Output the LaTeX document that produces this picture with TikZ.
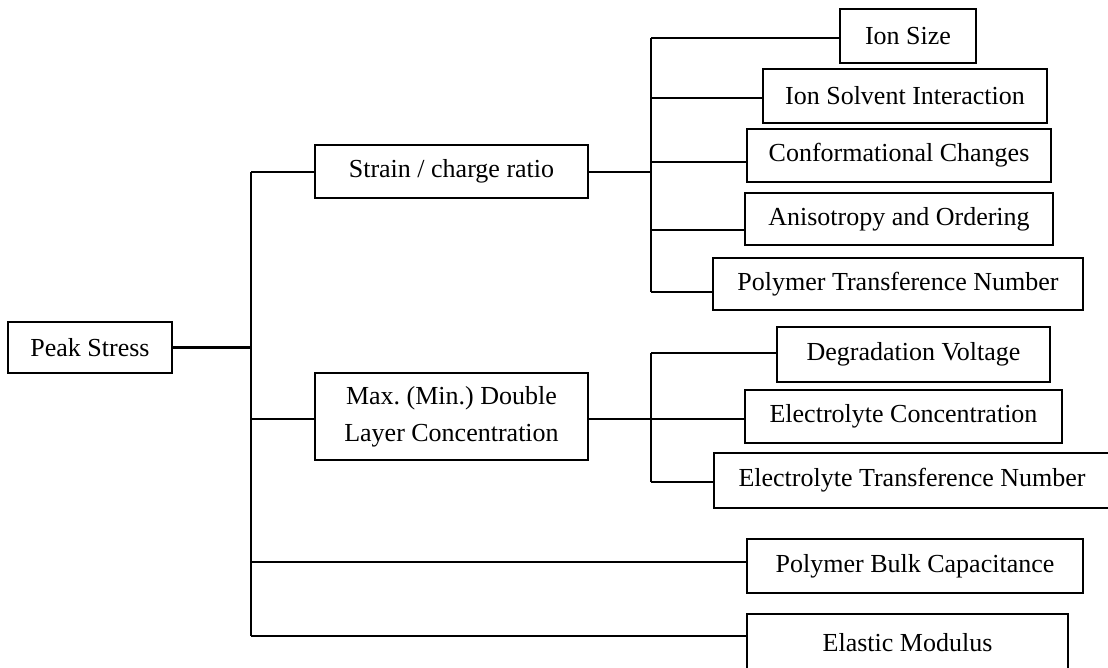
\documentclass[tikz,border=0pt]{standalone}
\usepackage{fontspec}
\setmainfont{Liberation Serif}
\usetikzlibrary{calc}
\frenchspacing
\tikzset{
  box/.style={draw=black, line width=2.9pt, inner sep=0pt, align=center,
    font=\fontsize{26}{37}\selectfont},
  link/.style={draw=black, line width=2.9pt},
}
\begin{document}
\begin{tikzpicture}[x=1pt,y=-1pt]
\useasboundingbox (0,0) rectangle (1108,667);
% nodes
\node[box, minimum width=164pt, minimum height=51pt] (peak) at (90,347.5) {Peak Stress};
\node[box, minimum width=273pt, minimum height=53pt] (strain) at (451.5,171.5) {Strain / charge ratio};
\node[box, minimum width=273pt, minimum height=87pt] (maxmin) at (451.5,416.5) {Max. (Min.) Double\\Layer Concentration};
\node[box, minimum width=136pt, minimum height=54pt] (ionsize) at (908,36) {Ion Size};
\node[box, minimum width=284pt, minimum height=54pt] (ionsolv) at (905,96) {Ion Solvent Interaction};
\node[box, minimum width=304pt, minimum height=53pt] (conf) at (899,155.5) {Conformational Changes};
\node[box, minimum width=308pt, minimum height=52pt] (aniso) at (899,219) {Anisotropy and Ordering};
\node[box, minimum width=370pt, minimum height=52pt] (ptn) at (898,284) {Polymer Transference Number};
\node[box, minimum width=273pt, minimum height=55pt] (degr) at (913.5,354.5) {Degradation Voltage};
\node[box, minimum width=317pt, minimum height=53pt] (econc) at (903.5,416.5) {Electrolyte Concentration};
\node[box, minimum width=396pt, minimum height=55pt] (etn) at (912,480.5) {Electrolyte Transference Number};
\node[box, minimum width=336pt, minimum height=54pt] (bulk) at (915,566) {Polymer Bulk Capacitance};
\node[box, minimum width=321pt, minimum height=58pt] (elastic) at (907.5,643) {Elastic Modulus};
% junction coordinates
\coordinate (trunkTop) at (251,172);
\coordinate (trunkPeak) at (251,347.5);
\coordinate (trunkMax) at (251,419);
\coordinate (trunkBulk) at (251,562);
\coordinate (trunkBot) at (251,636);
\coordinate (s1Top) at (651,38);
\coordinate (s1Solv) at (651,98);
\coordinate (s1Conf) at (651,162);
\coordinate (s1Strain) at (651,172);
\coordinate (s1Aniso) at (651,230);
\coordinate (s1Bot) at (651,292);
\coordinate (s2Top) at (651,353);
\coordinate (s2Mid) at (651,419);
\coordinate (s2Bot) at (651,482);
% connectors
\draw[link] (peak.east) -- (trunkPeak);
\draw[link] (trunkTop) -- (trunkBot);
\draw[link] (trunkTop) -- (strain.west |- trunkTop);
\draw[link] (trunkMax) -- (maxmin.west |- trunkMax);
\draw[link] (trunkBulk) -- (bulk.west |- trunkBulk);
\draw[link] (trunkBot) -- (elastic.west |- trunkBot);
\draw[link] (strain.east |- s1Strain) -- (s1Strain);
\draw[link] (s1Top) -- (s1Bot);
\draw[link] (s1Top) -- (ionsize.west |- s1Top);
\draw[link] (s1Solv) -- (ionsolv.west |- s1Solv);
\draw[link] (s1Conf) -- (conf.west |- s1Conf);
\draw[link] (s1Aniso) -- (aniso.west |- s1Aniso);
\draw[link] (s1Bot) -- (ptn.west |- s1Bot);
\draw[link] (maxmin.east |- s2Mid) -- (s2Mid);
\draw[link] (s2Top) -- (s2Bot);
\draw[link] (s2Top) -- (degr.west |- s2Top);
\draw[link] (s2Mid) -- (econc.west |- s2Mid);
\draw[link] (s2Bot) -- (etn.west |- s2Bot);
\end{tikzpicture}
\end{document}
